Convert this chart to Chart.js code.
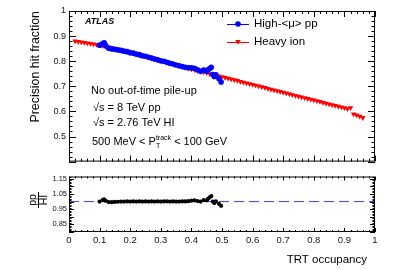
<!DOCTYPE html>
<html>
<head>
<meta charset="utf-8">
<script src="https://cdn.jsdelivr.net/npm/chart.js@4/dist/chart.umd.min.js"></script>
<style>
  body { margin: 0; background: #fff; }
  #wrap { position: relative; width: 399px; height: 270px; }
  canvas { position: absolute; left: 0; }
  #top { top: 0; }
  #ratio { top: 170px; }
</style>
</head>
<body>
<div id="wrap">
  <canvas id="top" width="399" height="170"></canvas>
  <canvas id="ratio" width="399" height="100"></canvas>
</div>
<script>
// heavy ion, TRT occupancy vs precision hit fraction
const hiX = [0.02, 0.03, 0.04, 0.05, 0.06, 0.07, 0.08, 0.09, 0.10,
    0.11, 0.12, 0.13, 0.14, 0.15, 0.16, 0.17, 0.18, 0.19, 0.20,
    0.21, 0.22, 0.23, 0.24, 0.25, 0.26, 0.27, 0.28, 0.29, 0.30,
    0.31, 0.32, 0.33, 0.34, 0.35, 0.36, 0.37, 0.38, 0.39, 0.40,
    0.41, 0.42, 0.43, 0.44, 0.45, 0.46, 0.47, 0.48, 0.49, 0.50,
    0.51, 0.52, 0.53, 0.54, 0.55, 0.56, 0.57, 0.58, 0.59, 0.60,
    0.61, 0.62, 0.63, 0.64, 0.65, 0.66, 0.67, 0.68, 0.69, 0.70,
    0.71, 0.72, 0.73, 0.74, 0.75, 0.76, 0.77, 0.78, 0.79, 0.80,
    0.81, 0.82, 0.83, 0.84, 0.85, 0.86, 0.87, 0.88, 0.89, 0.90,
    0.91, 0.92, 0.93, 0.94, 0.95, 0.96];
const hiY = [0.880, 0.878, 0.876, 0.874, 0.872, 0.870, 0.868, 0.866, 0.864,
    0.861, 0.858, 0.855, 0.852, 0.849, 0.846, 0.843, 0.840, 0.837, 0.834,
    0.831, 0.828, 0.825, 0.822, 0.819, 0.816, 0.812, 0.809, 0.805, 0.802,
    0.799, 0.795, 0.792, 0.788, 0.785, 0.782, 0.778, 0.775, 0.772, 0.769,
    0.766, 0.763, 0.760, 0.757, 0.754, 0.750, 0.747, 0.744, 0.741, 0.738,
    0.735, 0.732, 0.729, 0.726, 0.723, 0.719, 0.716, 0.713, 0.710, 0.707,
    0.704, 0.701, 0.698, 0.695, 0.691, 0.688, 0.685, 0.682, 0.679, 0.676,
    0.673, 0.670, 0.666, 0.663, 0.660, 0.657, 0.654, 0.651, 0.648, 0.645,
    0.642, 0.639, 0.635, 0.632, 0.629, 0.626, 0.623, 0.620, 0.617, 0.614,
    0.610, 0.614, 0.589, 0.585, 0.580, 0.575];

// high-<mu> pp
const ppX = [0.10, 0.11, 0.115, 0.12, 0.13, 0.14, 0.15, 0.16, 0.17, 0.18, 0.19, 0.20,
    0.21, 0.22, 0.23, 0.24, 0.25, 0.26, 0.27, 0.28, 0.29, 0.30,
    0.31, 0.32, 0.33, 0.34, 0.35, 0.36, 0.37, 0.38, 0.39, 0.40,
    0.41, 0.42, 0.43, 0.44, 0.45, 0.455, 0.46, 0.465, 0.47, 0.475, 0.48, 0.49, 0.497];
const ppY = [0.864, 0.870, 0.873, 0.862, 0.852, 0.849, 0.847, 0.845, 0.843, 0.840, 0.838, 0.834,
    0.832, 0.828, 0.826, 0.822, 0.820, 0.816, 0.813, 0.809, 0.806, 0.802,
    0.800, 0.796, 0.792, 0.789, 0.785, 0.782, 0.779, 0.776, 0.774, 0.774,
    0.772, 0.766, 0.760, 0.765, 0.760, 0.767, 0.771, 0.776, 0.747, 0.739, 0.746, 0.730, 0.717];

// pp / HI
const ratioY = [1.000, 1.010, 1.015, 1.005, 0.997, 0.996, 0.998, 0.999, 1.000, 1.000, 1.001, 1.000,
    1.001, 1.000, 1.001, 1.000, 1.001, 1.000, 1.001, 1.000, 1.001, 1.000,
    1.001, 1.001, 1.000, 1.001, 1.000, 1.000, 1.001, 1.001, 1.003, 1.006,
    1.008, 1.004, 1.000, 1.010, 1.008, 1.020, 1.028, 1.036, 1.000, 0.990, 1.002, 0.985, 0.972];
const unityX = [0, 1];
const unityY = [1, 1];

const xTicks = [0, 0.1, 0.2, 0.3, 0.4, 0.5, 0.6, 0.7, 0.8, 0.9, 1];
const topYTicks = [0.5, 0.6, 0.7, 0.8, 0.9, 1];
const ratioYTicks = [0.85, 0.9, 0.95, 1, 1.05, 1.1, 1.15];

const FONT = '"Liberation Sans", Arial, sans-serif';
const toPoints = (xs, ys) => xs.map((x, i) => ({ x, y: ys[i] }));
const fmt = (v) => String(+Number(v).toFixed(2));

// ROOT-like frame with inward ticks on all four sides
const rootFrame = {
    id: 'rootFrame',
    afterDraw(chart, args, o) {
        const { ctx, chartArea: a, scales: { x, y } } = chart;
        ctx.save();
        ctx.strokeStyle = '#000';
        ctx.lineWidth = 1;
        ctx.strokeRect(a.left + 0.5, a.top + 0.5, a.right - a.left - 1, a.bottom - a.top - 1);
        ctx.beginPath();
        for (let k = 0; k <= Math.round((x.max - x.min) / o.xMinor); k++) {
            const v = x.min + k * o.xMinor;
            const major = Math.abs(v / o.xMajor - Math.round(v / o.xMajor)) < 1e-6;
            const len = major ? o.xMajorLen : o.xMinorLen;
            const px = Math.round(x.getPixelForValue(v)) + 0.5;
            ctx.moveTo(px, a.bottom); ctx.lineTo(px, a.bottom - len);
            ctx.moveTo(px, a.top); ctx.lineTo(px, a.top + len);
        }
        const n = Math.floor((y.max - y.min) / o.yMinor + 1e-6);
        for (let k = 0; k <= n; k++) {
            const v = y.min + k * o.yMinor;
            const major = Math.abs(v / o.yMajor - Math.round(v / o.yMajor)) < 1e-6;
            const len = major ? o.yMajorLen : o.yMinorLen;
            const py = Math.round(y.getPixelForValue(v)) + 0.5;
            ctx.moveTo(a.left, py); ctx.lineTo(a.left + len, py);
            ctx.moveTo(a.right, py); ctx.lineTo(a.right - len, py);
        }
        ctx.stroke();
        ctx.restore();
    },
};

const drawMarker = (ctx, style, cx, cy, r) => {
    ctx.beginPath();
    if (style === 'triangle') {
        ctx.moveTo(cx, cy + r);
        ctx.lineTo(cx - r * 0.866, cy - r * 0.5);
        ctx.lineTo(cx + r * 0.866, cy - r * 0.5);
        ctx.closePath();
    } else {
        ctx.arc(cx, cy, r, 0, Math.PI * 2);
    }
    ctx.fill();
};

const topText = {
    id: 'topText',
    afterDraw(chart) {
        const ctx = chart.ctx;
        ctx.save();
        ctx.fillStyle = '#000';
        ctx.textBaseline = 'middle';
        ctx.font = 'bold italic 9px ' + FONT;
        ctx.fillText('ATLAS', 85, 22);

        ctx.font = '11px ' + FONT;
        ctx.fillText('No out-of-time pile-up', 91, 91);
        ctx.fillText('√s = 8 TeV pp', 93, 108);
        ctx.fillText('√s = 2.76 TeV HI', 93, 123);

        let px = 92;
        const s1 = '500 MeV < P';
        ctx.fillText(s1, px, 142);
        px += ctx.measureText(s1).width;
        ctx.font = '7px ' + FONT;
        ctx.fillText('track', px, 138);
        ctx.fillText('T', px, 146);
        px += ctx.measureText('track').width;
        ctx.font = '11px ' + FONT;
        ctx.fillText(' < 100 GeV', px, 142);

        // legend
        chart.data.datasets.forEach((ds, i) => {
            const ly = 24 + i * 17.5;
            ctx.strokeStyle = ds.borderColor;
            ctx.fillStyle = ds.backgroundColor;
            ctx.lineWidth = 1;
            ctx.beginPath();
            ctx.moveTo(227, Math.round(ly) + 0.5);
            ctx.lineTo(249, Math.round(ly) + 0.5);
            ctx.stroke();
            drawMarker(ctx, ds.pointStyle, 238, ly, ds.pointRadius);
            ctx.fillStyle = '#000';
            ctx.font = '11.5px ' + FONT;
            ctx.fillText(ds.label, 254, ly);
        });
        ctx.restore();
    },
};

const ratioText = {
    id: 'ratioText',
    afterDraw(chart) {
        const ctx = chart.ctx;
        ctx.save();
        ctx.fillStyle = '#000';
        ctx.font = '11.5px ' + FONT;
        ctx.textAlign = 'right';
        ctx.textBaseline = 'middle';
        ctx.fillText('TRT occupancy', 367, 90);
        // pp / HI, rotated
        ctx.translate(38, 30);
        ctx.rotate(-Math.PI / 2);
        ctx.textAlign = 'center';
        ctx.font = '10.5px ' + FONT;
        ctx.fillText('pp', 0, -5);
        ctx.fillText('HI', 0, 6);
        ctx.fillRect(-8, 0, 16, 1);
        ctx.restore();
    },
};

new Chart(document.getElementById('top'), {
    type: 'scatter',
    data: {
        datasets: [
            {
                label: 'High-<μ> pp',
                data: toPoints(ppX, ppY),
                backgroundColor: 'rgb(0,0,255)',
                borderColor: 'rgb(0,0,255)',
                pointStyle: 'circle',
                pointRadius: 2.8,
                pointBorderWidth: 0,
            },
            {
                label: 'Heavy ion',
                data: toPoints(hiX, hiY),
                backgroundColor: 'rgb(255,0,0)',
                borderColor: 'rgb(255,0,0)',
                pointStyle: 'triangle',
                rotation: 180,
                pointRadius: 3.2,
                pointBorderWidth: 0,
            },
        ],
    },
    options: {
        responsive: false,
        animation: false,
        devicePixelRatio: 1,
        layout: { padding: { top: 11, right: 24, left: 0, bottom: 0 } },
        plugins: {
            legend: { display: false },
            tooltip: { enabled: false },
            rootFrame: { xMajor: 0.1, xMinor: 0.02, xMajorLen: 6, xMinorLen: 3, yMajor: 0.1, yMinor: 0.02, yMajorLen: 7, yMinorLen: 3.5 },
        },
        scales: {
            x: {
                type: 'linear', min: 0, max: 1,
                grid: { display: false, drawTicks: false },
                border: { display: false },
                ticks: { display: false },
                afterFit: (s) => { s.height = 4; },
            },
            y: {
                min: 0.4, max: 1,
                grid: { display: false, drawTicks: false },
                border: { display: false },
                afterBuildTicks: (s) => { s.ticks = topYTicks.map((v) => ({ value: v })); },
                ticks: { padding: 3, color: '#111', font: { family: FONT, size: 9 }, callback: fmt },
                title: {
                    display: true, text: 'Precision hit fraction', align: 'end',
                    color: '#000', font: { family: FONT, size: 12.4 }, padding: { top: 28.5, bottom: 0 },
                },
                afterFit: (s) => { s.width = 69; },
            },
        },
    },
    plugins: [rootFrame, topText],
});

new Chart(document.getElementById('ratio'), {
    type: 'scatter',
    data: {
        datasets: [
            {
                label: 'pp/HI',
                data: toPoints(ppX, ratioY),
                backgroundColor: '#000',
                borderColor: '#000',
                pointRadius: 2.1,
                pointBorderWidth: 0,
            },
            {
                label: 'unity',
                data: toPoints(unityX, unityY),
                showLine: true,
                borderColor: 'rgb(60,60,255)',
                borderWidth: 1,
                borderDash: [10, 5],
                pointRadius: 0,
            },
        ],
    },
    options: {
        responsive: false,
        animation: false,
        devicePixelRatio: 1,
        layout: { padding: { top: 4, right: 24, left: 0, bottom: 0 } },
        plugins: {
            legend: { display: false },
            tooltip: { enabled: false },
            rootFrame: { xMajor: 0.1, xMinor: 0.02, xMajorLen: 4, xMinorLen: 2, yMajor: 0.05, yMinor: 0.01, yMajorLen: 5, yMinorLen: 2.5 },
        },
        scales: {
            x: {
                type: 'linear', min: 0, max: 1,
                grid: { display: false, drawTicks: false },
                border: { display: false },
                afterBuildTicks: (s) => { s.ticks = xTicks.map((v) => ({ value: v })); },
                ticks: { padding: 3, autoSkip: false, maxRotation: 0, color: '#111', font: { family: FONT, size: 9.5 }, callback: fmt },
                afterFit: (s) => { s.height = 38; },
            },
            y: {
                min: 0.8, max: 1.165,
                grid: { display: false, drawTicks: false },
                border: { display: false },
                afterBuildTicks: (s) => { s.ticks = ratioYTicks.map((v) => ({ value: v })); },
                ticks: { padding: 2, color: '#111', font: { family: FONT, size: 7.5 }, callback: fmt },
                afterFit: (s) => { s.width = 69; },
            },
        },
    },
    plugins: [rootFrame, ratioText],
});
</script>
</body>
</html>
